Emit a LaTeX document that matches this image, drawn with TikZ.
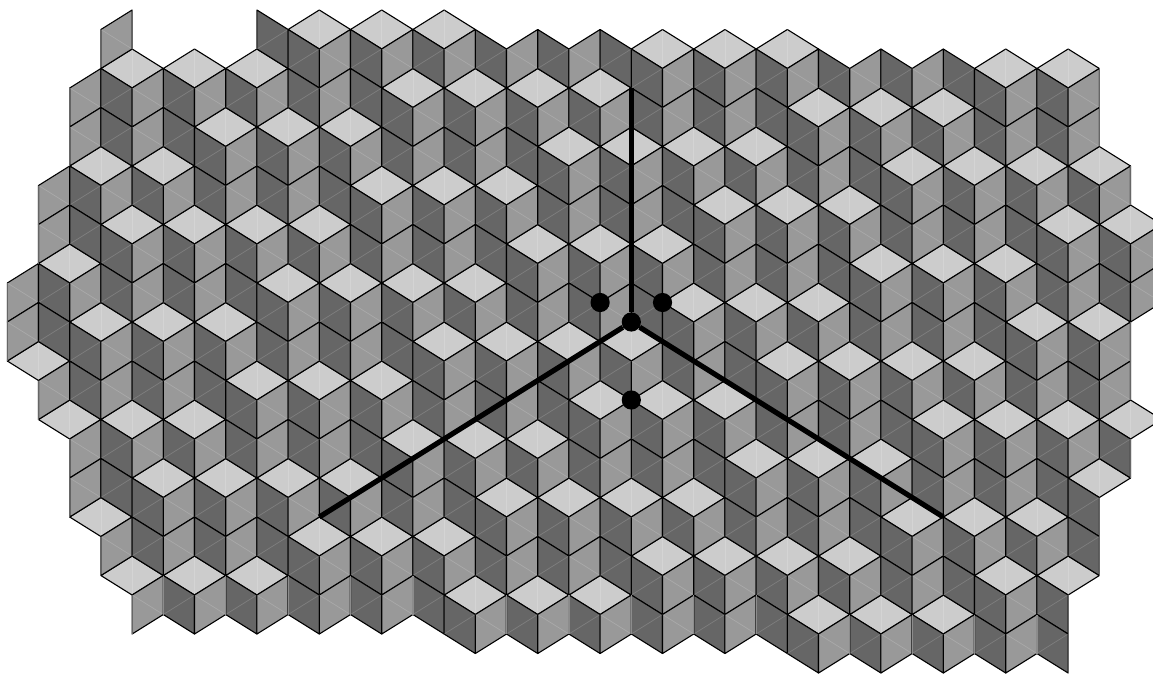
\documentclass[tikz,border=0pt]{standalone}
\usepackage{tikz}
\definecolor{TileLight}{HTML}{CCCCCC}
\definecolor{TileMid}{HTML}{999999}
\definecolor{TileDark}{HTML}{666666}
\tikzset{
  lighttile/.style={fill=TileLight, draw=black, line width=0.55pt, line join=round},
  midtile/.style={fill=TileMid, draw=black, line width=0.55pt, line join=round},
  darktile/.style={fill=TileDark, draw=black, line width=0.55pt, line join=round},
  seamline/.style={draw=white, opacity=0.16, line width=0.35pt},
  edgeline/.style={draw=black!60, line width=0.55pt},
  softline/.style={draw=black!45, line width=0.6pt},
  armline/.style={draw=black, line width=2.6pt},
  dotnode/.style={circle, fill=black, inner sep=0pt, minimum size=9.6pt}
}
\newcount\cntL
\newcount\cntR
\newcount\cntT
\newcount\stopL
\newcount\stopR
\newcommand{\dotile}{%
  \ifnum\cntR>\cntL
    \cntT=\cntL \advance\cntT by 1
    \ifcsname loz@\kl @\the\cntT\endcsname\else
      \draw[darktile] (\kl,\the\cntL) -- (\kr,\the\cntR) -- (\kr,\the\cntR+2) -- (\kl,\the\cntL+2) -- cycle;
      \draw[seamline] (\kl,\the\cntL+2) -- (\kr,\the\cntR);
      \advance\cntR by 2
    \fi
    \advance\cntL by 2
  \else
    \cntT=\cntR \advance\cntT by 1
    \ifcsname loz@\kr @\the\cntT\endcsname\else
      \draw[midtile] (\kl,\the\cntL) -- (\kr,\the\cntR) -- (\kr,\the\cntR+2) -- (\kl,\the\cntL+2) -- cycle;
      \draw[seamline] (\kl,\the\cntL) -- (\kr,\the\cntR+2);
      \advance\cntL by 2
    \fi
    \advance\cntR by 2
  \fi
  \walkstep}
\newcommand{\walkstep}{%
  \let\walknext\relax
  \ifnum\cntL<\stopL \let\walknext\dotile \fi
  \ifnum\cntR<\stopR \let\walknext\dotile \fi
  \walknext}
\begin{document}
\begin{tikzpicture}[x=15.6pt, y=-9.75pt]
\path[use as bounding box, clip] (-0.234,-0.513) rectangle (36.72,34);
\foreach \kl/\rows in {1/{18},2/{13,21},3/{8,16,26},4/{3,11,21,29},5/{8,16,24},6/{3,11,21,29},7/{6,16,24},8/{3,11,19,29},9/{6,14,24},10/{1,11,19,27},11/{6,14,24},12/{1,9,19,27},13/{4,14,22},14/{1,9,17,27},15/{4,14,22,30},16/{9,17,25},17/{4,12,22,30},18/{7,17,25},19/{4,12,20,30},20/{7,17,25},21/{2,12,20,28},22/{7,15,25},23/{2,10,20,28},24/{7,15,23},25/{2,10,18,28},26/{5,15,23,31},27/{10,18,28},28/{5,13,23,31},29/{8,18,26},30/{5,13,21,31},31/{8,18,26},32/{3,13,21,29},33/{8,16,26},34/{3,11,21,29},35/{8,16,24},36/{11,21}} {
  \foreach \n in \rows {
    \expandafter\gdef\csname loz@\kl @\n\endcsname{}
    \draw[lighttile] (\kl-1,\n) -- (\kl,\n-1) -- (\kl+1,\n) -- (\kl,\n+1) -- cycle;
    \draw[seamline] (\kl,\n-1) -- (\kl,\n+1);
  }
}
\foreach \kl/\ta/\tb/\ea/\eb in {0/14/13/18/19,1/9/8/21/22,2/4/3/26/27,3/1/0/29/30,4/2/3/32/31,5/3/2/31/32,6/2/3/32/31,7/3/2/31/32,8/0/1/32/31,9/1/0/31/32,10/0/1/32/31,11/1/0/31/32,12/0/1/32/31,13/1/0/31/32,14/0/1/32/33,15/1/2/33/32,16/2/1/32/33,17/1/2/33/32,18/2/1/32/33,19/1/2/33/32,20/2/1/32/33,21/1/2/33/32,22/2/1/32/33,23/1/2/33/32,24/2/1/32/33,25/1/2/33/34,26/2/3/34/33,27/3/2/33/34,28/2/3/34/33,29/3/2/33/34,30/2/3/34/33,31/3/2/33/34,32/2/3/34/33,33/3/2/33/34,34/2/3/30/29,35/7/8/25/24,36/10/11/16/15,36/20/21/22/21} {
  \pgfmathtruncatemacro\kr{\kl+1}
  \cntL=\ta\relax
  \cntR=\tb\relax
  \stopL=\ea\relax
  \stopR=\eb\relax
  \walkstep
}
\foreach \kl/\na/\nb in {0/14/18,1/9/13,1/19/21,2/4/8,2/22/26,3/1/3,3/27/29,4/0/2,4/30/32,8/0/2,34/30/34,35/3/7,35/25/29,36/8/10,36/16/20,36/22/24} {
  \draw[edgeline] (\kl,\na) -- (\kl,\nb);
}
\foreach \kl/\nb in {5/31,7/31,9/31,11/31,13/31,16/32,18/32,20/32,22/32,24/32,27/33,29/33,31/33,33/33} {
  \draw[softline] (\kl,\nb-2) -- (\kl,\nb);
}
\coordinate (armtop) at (20,4);
\coordinate (armleft) at (10,26);
\coordinate (armright) at (30,26);
\node[dotnode] (hub) at (20,16) {};
\node[dotnode] (dotleft) at (19,15) {};
\node[dotnode] (dotright) at (21,15) {};
\node[dotnode] (dotlow) at (20,20) {};
\draw[armline] (hub) -- (armtop);
\draw[armline] (hub) -- (armleft);
\draw[armline] (hub) -- (armright);
\end{tikzpicture}
\end{document}
